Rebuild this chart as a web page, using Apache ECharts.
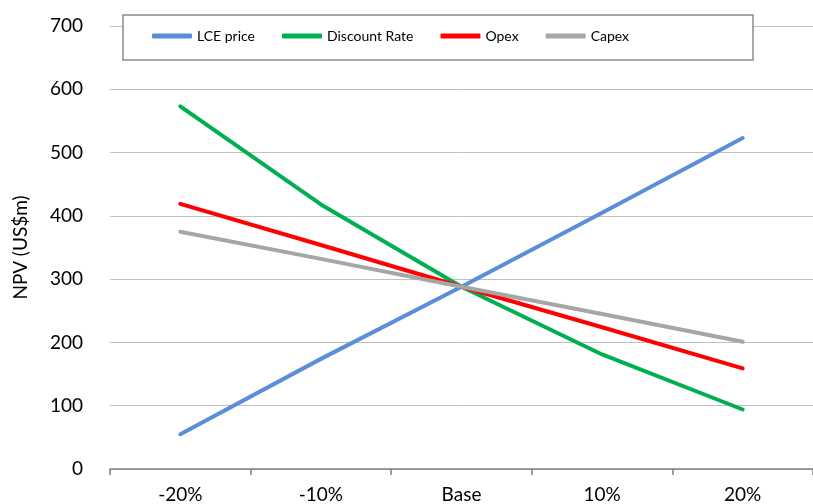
<!DOCTYPE html>
<html>
<head>
<meta charset="utf-8">
<script src="https://cdn.jsdelivr.net/npm/echarts@6/dist/echarts.min.js"></script>
<style>
  html, body { margin: 0; padding: 0; background: #fff; }
  #chart { width: 813px; height: 504px; }
</style>
</head>
<body>
<div id="chart"></div>
<script>
// Sensitivity of NPV (US$m) to +/- changes in key inputs
const categories = ['-20%', '-10%', 'Base', '10%', '20%'];
const lcePrice = [55, 174, 288, 405, 523];
const discountRate = [573, 418, 288, 181, 94];
const opex = [419, 354, 288, 224, 159];
const capex = [375, 332, 288, 245, 201];
const yTicks = { min: 0, max: 700, step: 100 };

const FONT = 'Lato, "Open Sans", sans-serif';

const chart = echarts.init(document.getElementById('chart'), null, { renderer: 'canvas' });

function lineSeries(name, data, color) {
  return {
    name: name,
    type: 'line',
    data: data,
    symbol: 'none',
    smooth: false,
    lineStyle: { color: color, width: 4, cap: 'round', join: 'round' },
    itemStyle: { color: color },
    z: 3
  };
}

chart.setOption({
  animation: false,
  backgroundColor: '#ffffff',
  grid: { left: 110, top: 26, right: -11, bottom: 35, containLabel: false },
  graphic: [{
    type: 'rect',
    shape: { x: 123, y: 15, width: 630, height: 45 },
    style: { fill: '#ffffff', stroke: '#8a8a8a', lineWidth: 1.5 },
    z: 10
  }],
  legend: {
    left: 152,
    top: 29,
    z: 11,
    icon: 'roundRect',
    itemWidth: 40,
    itemHeight: 5,
    itemGap: 27,
    padding: 0,
    textStyle: { fontFamily: FONT, fontSize: 14, color: '#000' },
    data: ['LCE price', 'Discount Rate', 'Opex', 'Capex']
  },
  xAxis: {
    type: 'category',
    data: categories,
    boundaryGap: true,
    axisLine: { show: true, lineStyle: { color: '#808080', width: 1.5 } },
    axisTick: { show: true, length: 6, lineStyle: { color: '#808080', width: 1.5 } },
    axisLabel: { fontFamily: FONT, fontSize: 19, color: '#000', margin: 16 },
    splitLine: { show: false }
  },
  yAxis: {
    type: 'value',
    min: yTicks.min,
    max: yTicks.max,
    interval: yTicks.step,
    name: 'NPV (US$m)',
    nameLocation: 'middle',
    nameRotate: 90,
    nameGap: 80,
    nameTextStyle: { fontFamily: FONT, fontSize: 19, color: '#000' },
    axisLine: { show: false },
    axisTick: { show: false },
    axisLabel: { fontFamily: FONT, fontSize: 19, color: '#000', margin: 27 },
    splitLine: { show: true, lineStyle: { color: '#c0c0c0', width: 1 } }
  },
  series: [
    lineSeries('LCE price', lcePrice, '#5a8ed8'),
    lineSeries('Discount Rate', discountRate, '#00b050'),
    lineSeries('Opex', opex, '#ff0000'),
    lineSeries('Capex', capex, '#a6a6a6')
  ]
});
</script>
</body>
</html>
